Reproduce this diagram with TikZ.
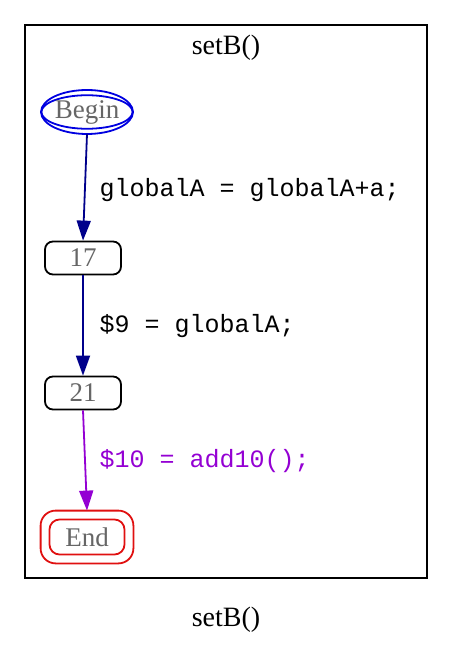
\documentclass[tikz,border=0pt]{standalone}
\usepackage{fontspec}
\setmainfont{Liberation Serif}
\setmonofont{Liberation Mono}
\usetikzlibrary{arrows.meta,shapes.geometric}
\definecolor{nodetext}{HTML}{666666}
\definecolor{navyedge}{HTML}{00008B}
\definecolor{violetedge}{HTML}{9400D3}
\definecolor{beginblue}{HTML}{0000E0}
\definecolor{endred}{HTML}{E01010}
\tikzset{
  lw/.style={line width=1.8pt},
  nodefont/.style={text=nodetext, font=\fontsize{27}{27}\selectfont},
  stmt/.style={draw=black, lw, rounded corners=8pt,
    minimum width=76pt, minimum height=33pt, inner sep=0pt, nodefont},
  flow/.style={lw, -{Triangle[length=20pt,width=14pt]}},
  code/.style={anchor=west, font=\ttfamily\fontsize{25}{25}\selectfont},
  title/.style={font=\fontsize{28}{28}\selectfont}
}
\begin{document}
\begin{tikzpicture}[x=1pt,y=-1pt]
  \useasboundingbox (0,0) rectangle (452,652);
  % cluster frame and its captions
  \draw[lw] (25,25) rectangle (427,578);
  \node[title] (ctitle) at (226,48) {setB()};
  \node[title] (gtitle) at (226,620) {setB()};
  % entry node
  \node[ellipse, draw=beginblue, lw, minimum width=77pt,
        minimum height=26pt, inner sep=0pt, nodefont] (begin) at (87,112) {Begin};
  \draw[beginblue, lw] (begin.center) ellipse [x radius=46, y radius=22];
  % statements
  \node[stmt] (n17) at (83,258) {17};
  \node[stmt] (n21) at (83,393) {21};
  % exit node
  \node[draw=endred, lw, rounded corners=10pt,
        minimum width=75pt, minimum height=35pt, inner sep=0pt,
        nodefont] (end) at (87,537) {End};
  \draw[endred, lw, rounded corners=15pt]
    ([xshift=-8pt,yshift=8pt]end.north west) rectangle ([xshift=8pt,yshift=-8pt]end.south east);
  % edges
  \draw[flow, navyedge] ([yshift=-22pt]begin.center) -- (n17.north);
  \draw[flow, navyedge] (n17.south) -- (n21.north);
  \draw[flow, violetedge] (n21.south) -- ([yshift=8pt]end.north);
  % edge labels
  \node[code] (l1) at (96,190) {globalA = globalA+a;};
  \node[code] (l2) at (96,326) {\$9 = globalA;};
  \node[code, text=violetedge] (l3) at (96,461) {\$10 = add10();};
\end{tikzpicture}
\end{document}
